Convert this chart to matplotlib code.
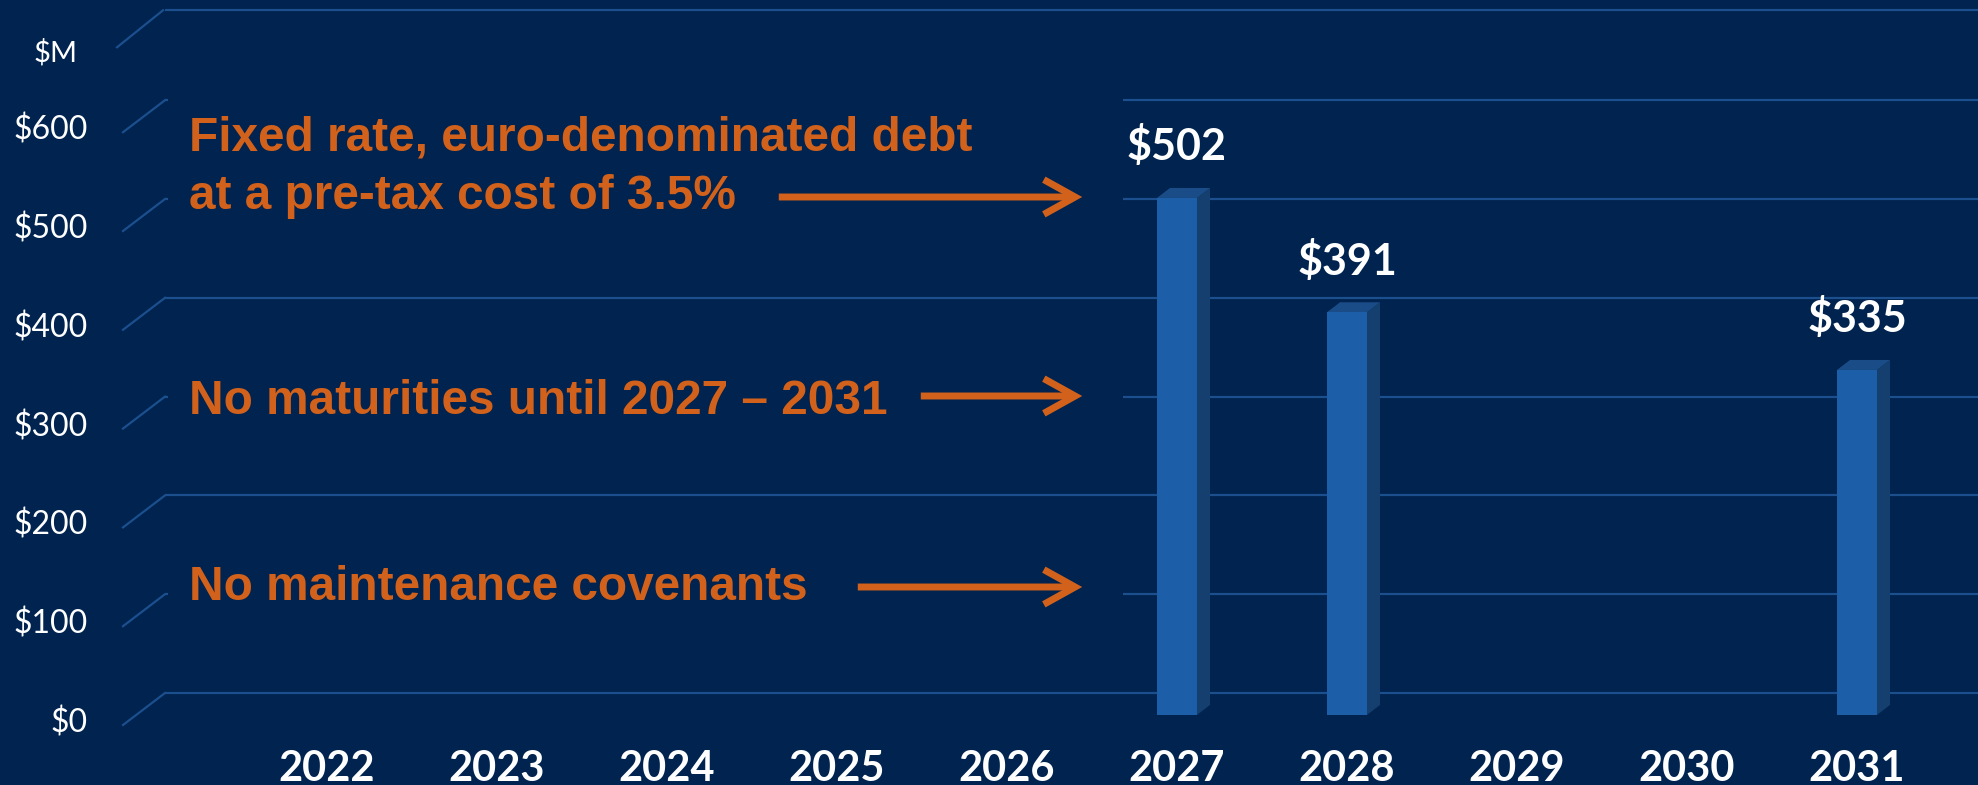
"""Debt maturity profile slide: pseudo-3D bar chart with callouts."""

import matplotlib
matplotlib.use("Agg")
import matplotlib.pyplot as plt
from matplotlib.patches import Polygon, Rectangle, FancyArrowPatch

years = ["2022", "2023", "2024", "2025", "2026", "2027", "2028", "2029", "2030", "2031"]
maturities = [0, 0, 0, 0, 0, 502, 391, 0, 0, 335]
tick_values = [0, 100, 200, 300, 400, 500, 600]
tick_labels = ["$0", "$100", "$200", "$300", "$400", "$500", "$600"]
unit_label = "$M"
callouts = [
    "Fixed rate, euro-denominated debt",
    "at a pre-tax cost of 3.5%",
    "No maturities until 2027 \u2013 2031",
    "No maintenance covenants",
]

BG = "#00234F"
GRID = "#1B4F8E"
FRONT = "#1C5FA8"
SIDE = "#153F6F"
TOP = "#1A4D88"
ORANGE = "#D2621B"

# layout in pixels of the 1978x785 canvas
FIG_W, FIG_H = 1978, 785
X0_PX, STEP_PX = 327, 170          # first category and spacing
BASE_PX, BAR_SCALE = 715, 1.03     # bar floor and px per $M
WALL_PX, WALL_SCALE = 693, 0.988   # back wall floor and px per $M
BAR_W = 40 / STEP_PX
DEPTH_X, DEPTH_Y = 13 / STEP_PX, 10 / BAR_SCALE

fig = plt.figure(figsize=(FIG_W / 100, FIG_H / 100), dpi=100, facecolor=BG)
xlim = (-X0_PX / STEP_PX, (FIG_W - X0_PX) / STEP_PX)

# back wall: gridlines, diagonals and value axis labels
wall = fig.add_axes([0, 0, 1, 1])
wall.set_facecolor(BG)
wall.set_xlim(*xlim)
wall.set_ylim(-(FIG_H - WALL_PX) / WALL_SCALE, WALL_PX / WALL_SCALE)
wall.axis("off")

x_back = (165 - X0_PX) / STEP_PX
x_front = (123 - X0_PX) / STEP_PX
x_label = (88 - X0_PX) / STEP_PX
drop = 32 / WALL_SCALE
top_level = 691

wall.hlines(tick_values + [top_level], x_back, xlim[1], color=GRID, lw=1.6, zorder=1)
for v, lab in zip(tick_values, tick_labels):
    wall.plot([x_front, x_back], [v - drop, v], color=GRID, lw=1.6, zorder=1)
    wall.text(x_label, v - 30 / WALL_SCALE, lab, ha="right", va="center",
              color="white", fontsize=23, family="Lato")
wall.plot([(117 - X0_PX) / STEP_PX, (163 - X0_PX) / STEP_PX],
          [top_level - 37 / WALL_SCALE, top_level], color=GRID, lw=1.6, zorder=1)
wall.text((56 - X0_PX) / STEP_PX, top_level - 42 / WALL_SCALE, unit_label,
          ha="center", va="center", color="white", fontsize=21, family="Lato")

# opaque text boxes hide part of the wall gridlines
box_x0, box_x1 = (168 - X0_PX) / STEP_PX, (1123 - X0_PX) / STEP_PX
for y_top, y_bot in [(60, 240), (340, 450), (540, 640)]:
    wall.add_patch(Rectangle((box_x0, (WALL_PX - y_bot) / WALL_SCALE),
                             box_x1 - box_x0, (y_bot - y_top) / WALL_SCALE,
                             facecolor=BG, edgecolor="none", zorder=2))

# bars
ax = fig.add_axes([0, 0, 1, 1])
ax.patch.set_visible(False)
ax.set_xlim(*xlim)
ax.set_ylim(-(FIG_H - BASE_PX) / BAR_SCALE, BASE_PX / BAR_SCALE)
ax.axis("off")

for i, (year, v) in enumerate(zip(years, maturities)):
    ax.text(i, -(769 - BASE_PX) / BAR_SCALE, year, ha="center", va="center",
            color="white", fontsize=30, fontweight="bold", family="Lato")
    if v <= 0:
        continue
    left, right = i - BAR_W / 2, i + BAR_W / 2
    ax.add_patch(Polygon([(right, 0), (right + DEPTH_X, DEPTH_Y),
                          (right + DEPTH_X, v + DEPTH_Y), (right, v)],
                         closed=True, facecolor=SIDE, edgecolor="none"))
    ax.add_patch(Polygon([(left, v), (right, v), (right + DEPTH_X, v + DEPTH_Y),
                          (left + DEPTH_X, v + DEPTH_Y)],
                         closed=True, facecolor=TOP, edgecolor="none"))
    ax.bar(i, v, width=BAR_W, color=FRONT, edgecolor="none")
    ax.annotate(f"${v}", (i, v), xytext=(0, 27), textcoords="offset points",
                ha="center", va="baseline", color="white", fontsize=31,
                fontweight="bold", family="Lato")

# orange callouts with arrows
text_kw = dict(color=ORANGE, fontsize=34.4, fontweight="bold",
               family="Liberation Sans", ha="left", va="baseline")
for text, base in zip(callouts, [151, 209, 414, 600]):
    fig.text(189 / FIG_W, 1 - base / FIG_H, text, **text_kw)

for x_tail, y in [(776, 197), (918, 396), (855, 587)]:
    arrow = FancyArrowPatch((x_tail / FIG_W, 1 - y / FIG_H), (1085 / FIG_W, 1 - y / FIG_H),
                            transform=fig.transFigure,
                            arrowstyle="->,head_length=0.45,head_width=0.25",
                            mutation_scale=50, color=ORANGE, lw=5,
                            capstyle="butt", joinstyle="miter")
    fig.add_artist(arrow)

fig.savefig("out.png", dpi=100, facecolor=BG)
